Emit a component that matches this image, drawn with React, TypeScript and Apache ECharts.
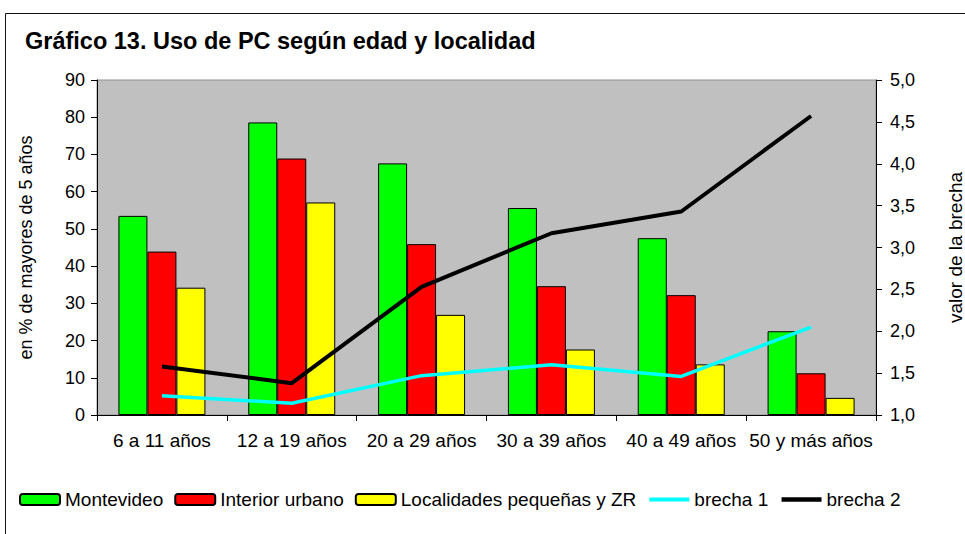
import React, { useEffect, useRef } from "react";
import * as echarts from "echarts";

const categories = ["6 a 11 años", "12 a 19 años", "20 a 29 años", "30 a 39 años", "40 a 49 años", "50 y más años"];
const montevideo = [53.5, 78.6, 67.6, 55.6, 47.5, 22.5];
const interiorUrbano = [43.9, 68.9, 45.9, 34.6, 32.2, 11.2];
const localidadesPequenas = [34.2, 57.1, 26.9, 17.6, 13.6, 4.6];
const brecha1 = [1.23, 1.14, 1.47, 1.6, 1.46, 2.05];
const brecha2 = [1.58, 1.38, 2.53, 3.17, 3.43, 4.57];

const FONT = "'Liberation Sans', Arial, sans-serif";

export default function App() {
  const ref = useRef<HTMLDivElement>(null);
  useEffect(() => {
    if (!ref.current) return;
    const chart = echarts.init(ref.current, null, { renderer: "svg" });
    const barStyle = (c: string) => ({ color: c, borderColor: "#000", borderWidth: 1 });
    chart.setOption({
      animation: false,
      backgroundColor: "#fff",
      textStyle: { fontFamily: FONT, color: "#000" },
      title: {
        text: "Gráfico 13. Uso de PC según edad y localidad",
        left: 20,
        top: 24,
        textStyle: { fontFamily: FONT, fontSize: 23.5, fontWeight: "bold", color: "#000" },
      },
      graphic: [
        {
          type: "rect",
          shape: { x: 5.5, y: 13.5, width: 1100, height: 700 },
          style: { fill: "none", stroke: "#111", lineWidth: 1 },
          silent: true,
          z: -10,
        },
      ],
      legend: {
        left: 14,
        top: 485,
        itemWidth: 40,
        itemHeight: 11,
        itemGap: 11,
        textStyle: { fontFamily: FONT, fontSize: 19, color: "#000" },
        data: [
          { name: "Montevideo" },
          { name: "Interior urbano" },
          { name: "Localidades pequeñas y ZR" },
          { name: "brecha 1", itemStyle: { opacity: 0 }, lineStyle: { width: 4 } },
          { name: "brecha 2", itemStyle: { opacity: 0 }, lineStyle: { width: 4.5 } },
        ],
      },
      grid: {
        left: 97,
        right: 89,
        top: 80,
        bottom: 119,
        outerBoundsMode: "none",
        containLabel: false,
        show: true,
        backgroundColor: "#c0c0c0",
        borderColor: "#909090",
        borderWidth: 1,
      },
      xAxis: {
        type: "category",
        data: categories,
        axisLine: { lineStyle: { color: "#000", width: 1 } },
        axisTick: { show: true, length: 6, lineStyle: { color: "#000" } },
        axisLabel: { fontFamily: FONT, fontSize: 19, color: "#000", margin: 16, interval: 0 },
      },
      yAxis: [
        {
          type: "value",
          min: 0,
          max: 90,
          interval: 10,
          name: "en % de mayores de 5 años",
          nameLocation: "middle",
          nameRotate: 90,
          nameGap: 62,
          nameTextStyle: { fontFamily: FONT, fontSize: 18, color: "#000" },
          axisLine: { show: true, lineStyle: { color: "#000", width: 1 } },
          axisTick: { show: true, length: 6, lineStyle: { color: "#000" } },
          axisLabel: { fontFamily: FONT, fontSize: 18, color: "#000", margin: 12 },
          splitLine: { show: false },
        },
        {
          type: "value",
          min: 1,
          max: 5,
          interval: 0.5,
          position: "right",
          name: "valor de la brecha",
          nameLocation: "middle",
          nameRotate: 90,
          nameGap: 70,
          nameTextStyle: { fontFamily: FONT, fontSize: 19, color: "#000" },
          axisLine: { show: true, lineStyle: { color: "#000", width: 1 } },
          axisTick: { show: true, length: 6, lineStyle: { color: "#000" } },
          axisLabel: {
            fontFamily: FONT,
            fontSize: 18,
            color: "#000",
            margin: 14,
            formatter: (v: number) => v.toFixed(1).replace(".", ","),
          },
          splitLine: { show: false },
        },
      ],
      series: [
        {
          name: "Montevideo",
          type: "bar",
          data: montevideo,
          barGap: "0%",
          barCategoryGap: "33%",
          itemStyle: barStyle("#00ff00"),
        },
        { name: "Interior urbano", type: "bar", data: interiorUrbano, itemStyle: barStyle("#ff0000") },
        { name: "Localidades pequeñas y ZR", type: "bar", data: localidadesPequenas, itemStyle: barStyle("#ffff00") },
        {
          name: "brecha 1",
          type: "line",
          yAxisIndex: 1,
          data: brecha1,
          symbol: "none",
          lineStyle: { color: "#00ffff", width: 3.5 },
          itemStyle: { color: "#00ffff" },
          z: 5,
        },
        {
          name: "brecha 2",
          type: "line",
          yAxisIndex: 1,
          data: brecha2,
          symbol: "none",
          lineStyle: { color: "#000", width: 4 },
          itemStyle: { color: "#000" },
          z: 6,
        },
      ],
    });
    return () => chart.dispose();
  }, []);
  return (
    <div
      ref={ref}
      style={{ position: "fixed", left: 0, top: 0, width: 965, height: 534, background: "#fff" }}
    />
  );
}
